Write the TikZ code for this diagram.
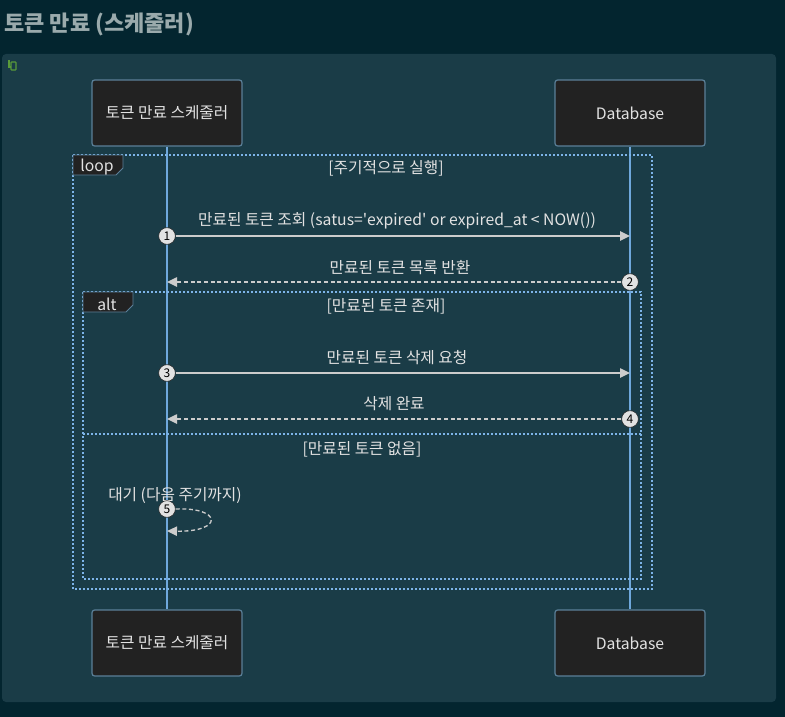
\documentclass[tikz,border=0pt]{standalone}
\usepackage{fontspec}
\setmainfont{Noto Sans CJK KR}
\usepackage{tikz}
\usetikzlibrary{arrows.meta,positioning,calc}

\definecolor{bgout}{HTML}{03252F}
\definecolor{panel}{HTML}{1A3C47}
\definecolor{boxfill}{HTML}{222222}
\definecolor{boxline}{HTML}{5B8099}
\definecolor{life}{HTML}{6FA8DC}
\definecolor{frameline}{HTML}{7DB4E8}
\definecolor{txt}{HTML}{E2E2E2}
\definecolor{arr}{HTML}{CCCCCC}
\definecolor{titlecol}{HTML}{9AAAAC}
\definecolor{icon}{HTML}{5A9A3A}

\begin{document}
\begin{tikzpicture}[x=0.75pt,y=-0.75pt,
  actor/.style={draw=boxline,fill=boxfill,rounded corners=2pt,line width=0.9pt,
    minimum width=112.5pt,minimum height=49.5pt,text=txt,font=\fontsize{11.8}{13}\selectfont},
  lifeline/.style={draw=life,line width=1.1pt},
  frame/.style={draw=frameline,line width=1.3pt,dash pattern=on 1.3pt off 1.7pt},
  tag/.style={draw=boxline,fill=boxfill,line width=0.6pt},
  lbl/.style={text=txt,font=\fontsize{11.8}{13}\selectfont,inner sep=1pt,yshift=-1.8pt},
  num/.style={circle,fill=txt,draw=boxfill,line width=0.4pt,inner sep=0pt,minimum size=12.5pt,
    text=black,font=\fontsize{9}{10}\selectfont},
  msg/.style={draw=arr,line width=1.1pt,-{Triangle[length=7.5pt,width=7pt]}},
  reply/.style={msg,dash pattern=on 3pt off 2pt}]
  % background
  \fill[bgout] (0,0) rectangle (785,717);
  \fill[panel,rounded corners=3pt] (2,54) rectangle (776,702);
  \node[text=titlecol,font=\fontsize{16.5}{19}\selectfont\bfseries,anchor=west,inner sep=0pt] (title) at (4,24) {토큰 만료 (스케줄러)};
  \draw[icon,line width=0.8pt] (9,60) -- (9,67) -- (11,67);
  \draw[icon,line width=0.8pt,rounded corners=0.5pt] (11,62) rectangle (16,70);

  % participants
  \node[actor] (sched) at (167,113) {토큰 만료 스케줄러};
  \node[actor] (db) at (630,113) {Database};
  \node[actor] (schedb) at (167,643) {토큰 만료 스케줄러};
  \node[actor] (dbb) at (630,643) {Database};
  \draw[lifeline] (sched) -- (schedb);
  \draw[lifeline] (db) -- (dbb);

  % loop frame
  \draw[frame] (73,155) rectangle (652,589);
  \draw[tag] (73,155) -- (123,155) -- (123,168) -- (116,175) -- (73,175) -- cycle;
  \node[lbl] (looptag) at (97,165) {loop};
  \node[lbl] (loopcond) at (386,166) {[주기적으로 실행]};

  % query
  \node[lbl] (m1) at (397,218) {만료된 토큰 조회 (satus=\textquotesingle expired\textquotesingle\ or expired\_at < NOW())};
  \node[num] (n1) at (167,236) {1};
  \coordinate (d1) at (630,236);
  \draw[msg] (n1) -- (d1);

  \node[lbl] (m2) at (400,265) {만료된 토큰 목록 반환};
  \node[num] (n2) at (630,282) {2};
  \coordinate (s2) at (167,282);
  \draw[reply] (n2) -- (s2);

  % alt frame
  \draw[frame] (83,292) rectangle (641,579);
  \draw[tag] (83,292) -- (133,292) -- (133,305) -- (126,312) -- (83,312) -- cycle;
  \node[lbl] (alttag) at (107,302) {alt};
  \node[lbl] (altcond) at (386,304) {[만료된 토큰 존재]};

  \node[lbl] (m3) at (397,355) {만료된 토큰 삭제 요청};
  \node[num] (n3) at (167,373) {3};
  \coordinate (d3) at (630,373);
  \draw[msg] (n3) -- (d3);

  \node[lbl] (m4) at (394,401) {삭제 완료};
  \node[num] (n4) at (630,419) {4};
  \coordinate (s4) at (167,419);
  \draw[reply] (n4) -- (s4);

  % else
  \draw[frame] (83,434) -- (641,434);
  \node[lbl] (elsecond) at (362,447) {[만료된 토큰 없음]};

  \node[lbl] (m5) at (175,493) {대기 (다음 주기까지)};
  \node[num] (n5) at (167,509) {5};
  \coordinate (s5) at (167,531);
  \draw[reply,line width=1pt] (n5.east) .. controls (222,507) and (224,532) .. (s5);
\end{tikzpicture}
\end{document}
